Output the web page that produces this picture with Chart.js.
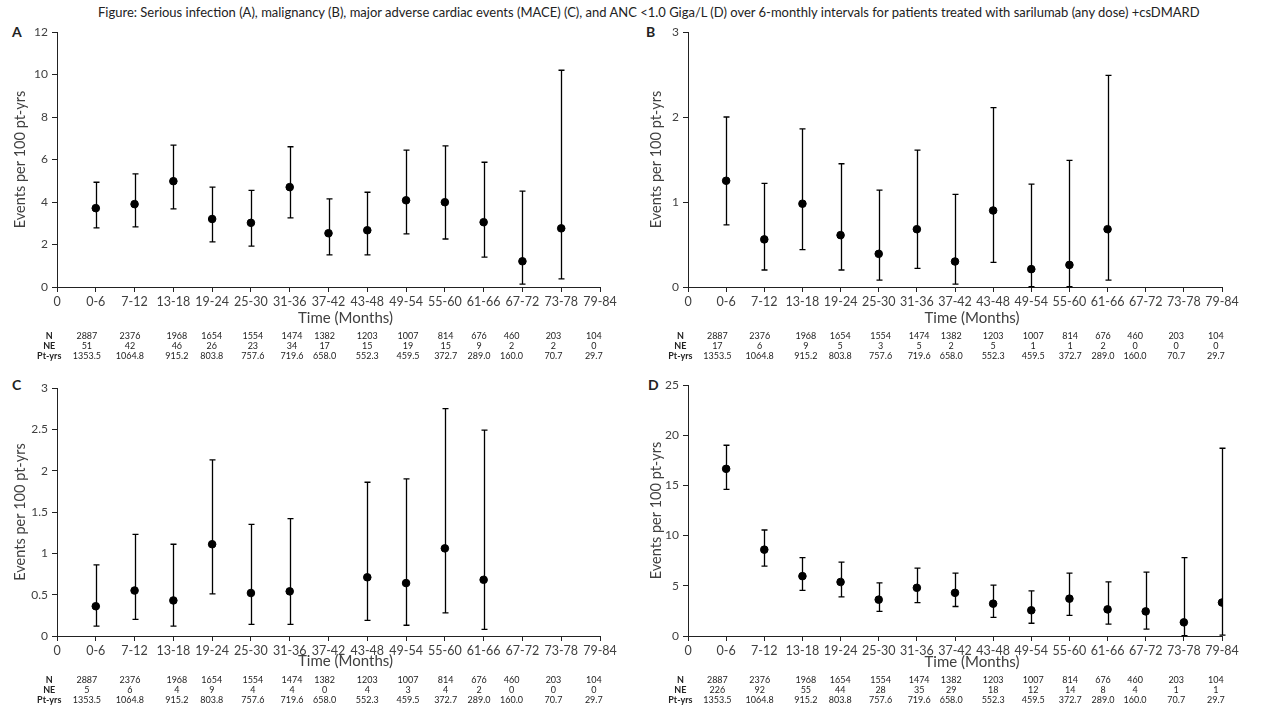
<!DOCTYPE html>
<html>
<head>
<meta charset="utf-8">
<script src="https://cdn.jsdelivr.net/npm/chart.js@4.4.0/dist/chart.umd.min.js"></script>
<style>
  body { margin: 0; width: 1280px; height: 720px; background: #fff; position: relative; overflow: hidden;
         font-family: Lato, "Open Sans", sans-serif; color: #222; }
  .title { position: absolute; top: 4px; left: 98px; font-size: 15.5px; white-space: nowrap; }
  .letter { position: absolute; font-weight: bold; font-size: 14px; }
  .panel { position: absolute; width: 640px; height: 350px; }
</style>
</head>
<body>
<div class="title" id="title">Figure: Serious infection (A), malignancy (B), major adverse cardiac events (MACE) (C), and ANC &lt;1.0 Giga/L (D) over 6-monthly intervals for patients treated with sarilumab (any dose) +csDMARD</div>
<div class="letter" style="left:12px;top:23px">A</div>
<div class="letter" style="left:646px;top:23px">B</div>
<div class="letter" style="left:12px;top:376px">C</div>
<div class="letter" style="left:648px;top:376px">D</div>
<div class="panel" style="left:0;top:20px"><canvas id="chartA" width="640" height="350"></canvas></div>
<div class="panel" style="left:640px;top:20px"><canvas id="chartB" width="640" height="350"></canvas></div>
<div class="panel" style="left:0;top:372px"><canvas id="chartC" width="640" height="350"></canvas></div>
<div class="panel" style="left:640px;top:372px"><canvas id="chartD" width="640" height="350"></canvas></div>
<script>
// x axis labels (position 0 is the origin, intervals start at 1)
const categories = ['0', '0-6', '7-12', '13-18', '19-24', '25-30', '31-36', '37-42', '43-48',
                    '49-54', '55-60', '61-66', '67-72', '73-78', '79-84'];

// table under each panel
const patientsN = [2887, 2376, 1968, 1654, 1554, 1474, 1382, 1203, 1007, 814, 676, 460, 203, 104];
const ptYears = [1353.5, 1064.8, 915.2, 803.8, 757.6, 719.6, 658.0, 552.3, 459.5, 372.7, 289.0, 160.0, 70.7, 29.7];

// A - serious infection
const rateA = [3.71, 3.9, 4.98, 3.2, 3.02, 4.7, 2.53, 2.67, 4.08, 3.99, 3.05, 1.21, 2.76, null];
const lowA  = [2.78, 2.83, 3.68, 2.12, 1.92, 3.25, 1.51, 1.51, 2.5, 2.26, 1.41, 0.14, 0.38, null];
const highA = [4.93, 5.32, 6.68, 4.7, 4.55, 6.6, 4.15, 4.46, 6.44, 6.64, 5.87, 4.51, 10.2, null];
const neA   = [51, 42, 46, 26, 23, 34, 17, 15, 19, 15, 9, 2, 2, 0];

// B - malignancy
const rateB = [1.25, 0.56, 0.98, 0.61, 0.39, 0.68, 0.3, 0.9, 0.21, 0.26, 0.68, null, null, null];
const lowB  = [0.73, 0.2, 0.44, 0.2, 0.08, 0.22, 0.035, 0.29, 0.005, 0.005, 0.08, null, null, null];
const highB = [2.0, 1.22, 1.86, 1.45, 1.14, 1.61, 1.09, 2.11, 1.21, 1.49, 2.49, null, null, null];
const neB   = [17, 6, 9, 5, 3, 5, 2, 5, 1, 1, 2, 0, 0, 0];

// C - MACE
const rateC = [0.36, 0.55, 0.43, 1.11, 0.52, 0.54, null, 0.71, 0.64, 1.06, 0.68, null, null, null];
const lowC  = [0.12, 0.2, 0.12, 0.51, 0.14, 0.14, null, 0.19, 0.13, 0.28, 0.08, null, null, null];
const highC = [0.86, 1.23, 1.11, 2.13, 1.35, 1.42, null, 1.86, 1.9, 2.75, 2.49, null, null, null];
const neC   = [5, 6, 4, 9, 4, 4, 0, 4, 3, 4, 2, 0, 0, 0];

// D - ANC <1.0 Giga/L
const rateD = [16.65, 8.6, 5.96, 5.38, 3.62, 4.8, 4.3, 3.22, 2.56, 3.72, 2.65, 2.45, 1.36, 3.33];
const lowD  = [14.6, 6.96, 4.54, 3.89, 2.45, 3.33, 2.94, 1.86, 1.27, 2.06, 1.18, 0.69, 0.03, 0.08];
const highD = [19.0, 10.56, 7.8, 7.35, 5.3, 6.76, 6.27, 5.07, 4.5, 6.27, 5.39, 6.37, 7.81, 18.7];
const neD   = [226, 92, 55, 44, 28, 35, 29, 18, 12, 14, 8, 4, 1, 1];

const FONT = 'Lato, "Open Sans", sans-serif';
const TEXT = '#404040';
Chart.defaults.font.family = FONT;
Chart.defaults.color = TEXT;

// stretch the figure title over the same span as in the original (98..1200 px)
const titleEl = document.getElementById('title');
titleEl.style.fontSize = (15.5 * 1102 / titleEl.offsetWidth).toFixed(2) + 'px';

// where the table columns sit, in x-axis units
const tableCols = [0.77, 1.88, 3.09, 3.99, 5.05, 6.06, 6.9, 8.0, 9.05, 10.02, 10.88, 11.72, 12.8, 13.84];

// error bars + the N / NE / Pt-yrs table, drawn through the chart's scales
function overlay(p) {
  return {
    id: 'overlay',
    beforeDatasetsDraw(chart) {
      const { ctx, scales: { x, y } } = chart;
      ctx.save();
      ctx.strokeStyle = '#000';
      ctx.lineWidth = 1.3;
      p.low.forEach((lo, i) => {
        const hi = p.high[i];
        if (lo == null || hi == null) return;
        const px = Math.round(x.getPixelForValue(i + 1)) + 0.5;
        const yl = y.getPixelForValue(lo), yh = y.getPixelForValue(hi);
        ctx.beginPath();
        ctx.moveTo(px, yl); ctx.lineTo(px, yh);
        ctx.moveTo(px - 3, yl); ctx.lineTo(px + 3, yl);
        ctx.moveTo(px - 3, yh); ctx.lineTo(px + 3, yh);
        ctx.stroke();
      });
      ctx.restore();
    },
    afterDraw(chart) {
      const { ctx, chartArea, scales: { x } } = chart;
      ctx.save();
      ctx.textAlign = 'center';
      ctx.textBaseline = 'middle';
      ctx.fillStyle = TEXT;
      ctx.font = '15px ' + FONT;
      ctx.fillText('Time (Months)', (chartArea.left + chartArea.right) / 2 + 17, p.timeY);
      const rows = [
        ['N', patientsN.map(String)],
        ['NE', p.ne.map(String)],
        ['Pt-yrs', ptYears.map(v => v.toFixed(1))]
      ];
      rows.forEach((row, r) => {
        const ty = p.tableY + r * 10;
        ctx.fillStyle = '#222';
        ctx.font = 'bold 9px ' + FONT;
        ctx.fillText(row[0], x.getPixelForValue(-0.2), ty);
        ctx.font = '9px ' + FONT;
        row[1].forEach((txt, i) => ctx.fillText(txt, x.getPixelForValue(tableCols[i]), ty));
      });
      ctx.restore();
    }
  };
}

function makePanel(id, p) {
  const points = [];
  p.rate.forEach((v, i) => { if (v != null) points.push({ x: i + 1, y: v }); });
  new Chart(document.getElementById(id), {
    type: 'scatter',
    data: {
      datasets: [{
        data: points,
        backgroundColor: '#000',
        borderColor: '#000',
        pointRadius: 3.8,
        pointHoverRadius: 3.8
      }]
    },
    options: {
      responsive: false,
      animation: false,
      layout: { padding: { left: p.padLeft, top: p.top, right: p.right, bottom: 0 } },
      plugins: { legend: { display: false }, tooltip: { enabled: false } },
      scales: {
        x: {
          type: 'linear', min: 0, max: 14,
          afterFit: s => { s.height = p.xHeight; },
          ticks: { stepSize: 1, autoSkip: false, maxRotation: 0, padding: 2,
                   font: { size: 12.5 }, color: TEXT, callback: v => categories[v] },
          grid: { drawOnChartArea: false, drawTicks: true, tickLength: 5, color: '#222' },
          border: { color: '#222', width: 1 }
        },
        y: {
          min: 0, max: p.max,
          afterFit: s => { s.width = p.yWidth; },
          ticks: { stepSize: p.step, font: { size: 12 }, color: TEXT, padding: 4,
                   callback: v => String(v) },
          grid: { drawOnChartArea: false, drawTicks: true, tickLength: 5, color: '#222' },
          border: { color: '#222', width: 1 },
          title: { display: true, text: 'Events per 100 pt-yrs', font: { size: 14.5 }, color: TEXT,
                   padding: { top: 0, bottom: 0 } }
        }
      }
    },
    plugins: [overlay(p)]
  });
}

makePanel('chartA', { rate: rateA, low: lowA, high: highA, ne: neA, max: 12, step: 2,
  padLeft: 12, yWidth: 45, top: 12, right: 40, xHeight: 83, timeY: 298, tableY: 316 });
makePanel('chartB', { rate: rateB, low: lowB, high: highB, ne: neB, max: 3, step: 1,
  padLeft: 8, yWidth: 40, top: 12, right: 58, xHeight: 83, timeY: 298, tableY: 316 });
makePanel('chartC', { rate: rateC, low: lowC, high: highC, ne: neC, max: 3, step: 0.5,
  padLeft: 12, yWidth: 45, top: 16, right: 40, xHeight: 86, timeY: 289, tableY: 308 });
makePanel('chartD', { rate: rateD, low: lowD, high: highD, ne: neD, max: 25, step: 5,
  padLeft: 8, yWidth: 40, top: 13, right: 58, xHeight: 86, timeY: 290, tableY: 308 });
</script>
</body>
</html>
